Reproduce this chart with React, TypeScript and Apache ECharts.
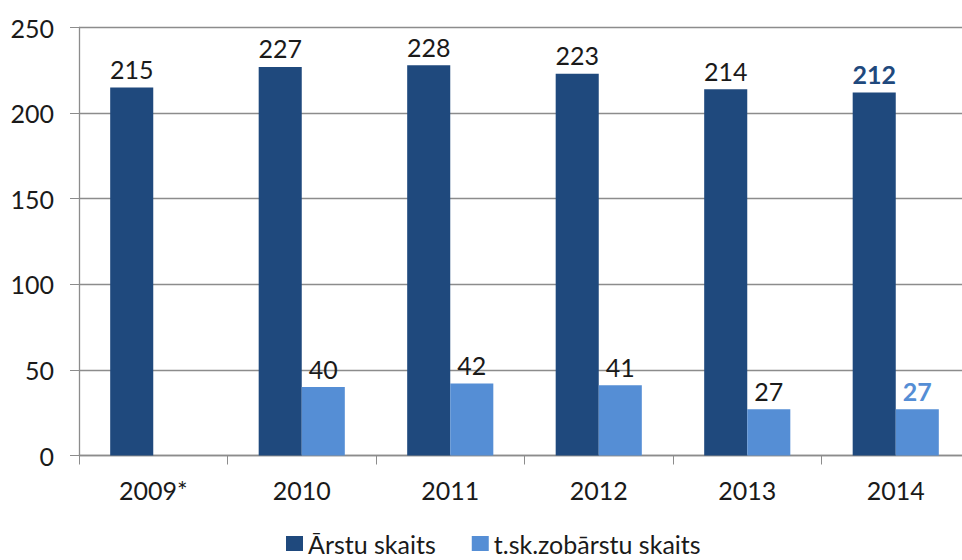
import React, { useEffect, useRef } from "react";
import * as echarts from "echarts";

const categories = ["2009*", "2010", "2011", "2012", "2013", "2014"];
const arstuSkaits = [215, 227, 228, 223, 214, 212];
const zobarstuSkaits: (number | null)[] = [null, 40, 42, 41, 27, 27];
const yTicks = [0, 50, 100, 150, 200, 250];

const DARK = "#1F497D";
const LIGHT = "#558ED5";
const FONT = "Lato, 'Open Sans', sans-serif";

export default function App() {
  const ref = useRef<HTMLDivElement>(null);
  useEffect(() => {
    if (!ref.current) return;
    const chart = echarts.init(ref.current, null, { renderer: "svg" });
    const last = categories.length - 1;
    const labelBase = {
      show: true,
      position: "top",
      distance: 6,
      fontSize: 25,
      color: "#1a1a1a",
      fontFamily: FONT,
    };
    chart.setOption({
      animation: false,
      textStyle: { fontFamily: FONT },
      grid: {
        left: 79,
        width: 891,
        top: 27.5,
        height: 428,
        containLabel: false,
        outerBoundsMode: "none",
      },
      legend: {
        top: 531,
        left: 286,
        padding: 0,
        itemWidth: 17,
        itemHeight: 15,
        itemGap: 36,
        icon: "rect",
        textStyle: { fontSize: 25, lineHeight: 25, color: "#1a1a1a", fontFamily: FONT },
        data: ["Ārstu skaits", "t.sk.zobārstu skaits"],
      },
      xAxis: {
        type: "category",
        data: categories,
        axisLine: { lineStyle: { color: "#8c8c8c", width: 1.3 } },
        axisTick: { show: true, length: 9, lineStyle: { color: "#8c8c8c" } },
        axisLabel: { fontSize: 25, color: "#1a1a1a", margin: 22, fontFamily: FONT },
      },
      yAxis: {
        type: "value",
        min: yTicks[0],
        max: yTicks[yTicks.length - 1],
        interval: 50,
        axisLine: { show: true, lineStyle: { color: "#8c8c8c", width: 1.3 } },
        axisTick: { show: true, length: 9, lineStyle: { color: "#8c8c8c" } },
        splitLine: { show: true, lineStyle: { color: "#8c8c8c", width: 1.3 } },
        axisLabel: { fontSize: 25, color: "#1a1a1a", margin: 25, fontFamily: FONT },
      },
      series: [
        {
          name: "Ārstu skaits",
          type: "bar",
          barGap: "0%",
          barCategoryGap: "42%",
          itemStyle: { color: DARK },
          data: arstuSkaits.map((v, i) =>
            i === last
              ? { value: v, label: { color: DARK, fontWeight: "bold" } }
              : v
          ),
          label: labelBase,
        },
        {
          name: "t.sk.zobārstu skaits",
          type: "bar",
          barGap: "0%",
          barCategoryGap: "42%",
          itemStyle: { color: LIGHT },
          data: zobarstuSkaits.map((v, i) =>
            i === last
              ? { value: v, label: { color: LIGHT, fontWeight: "bold" } }
              : v
          ),
          label: labelBase,
        },
      ],
    });
    return () => chart.dispose();
  }, []);
  return <div ref={ref} style={{ width: 962, height: 560, position: "absolute", left: 0, top: 0 }} />;
}
